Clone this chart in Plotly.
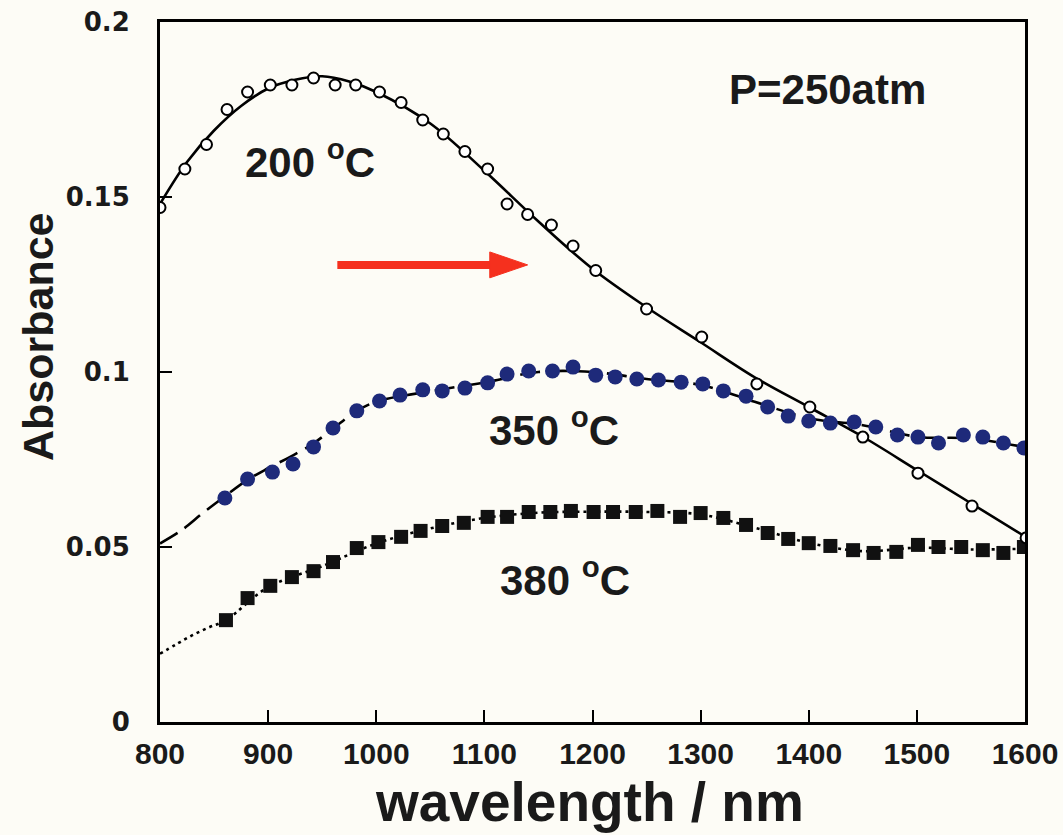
import plotly.graph_objects as go

# ---- 200 °C : open circles + solid fitted curve ----
wl_200 = [800, 823, 843, 862, 881, 902, 922, 942, 962, 981, 1003, 1023, 1043, 1062,
          1082, 1103, 1121, 1140, 1162, 1182, 1203, 1250, 1301, 1352, 1401, 1450,
          1501, 1551, 1601]
abs_200 = [0.147, 0.158, 0.165, 0.175, 0.180, 0.182, 0.182, 0.184, 0.182, 0.182,
           0.180, 0.177, 0.172, 0.168, 0.163, 0.158, 0.148, 0.145, 0.142, 0.136,
           0.129, 0.118, 0.110, 0.0966, 0.090, 0.0814, 0.0711, 0.0617, 0.0526]
fit_wl_200 = [800, 825, 850, 875, 900, 925, 950, 975, 1000, 1050, 1100, 1150, 1200,
              1250, 1300, 1350, 1400, 1450, 1500, 1550, 1600]
fit_abs_200 = [0.148, 0.160, 0.169, 0.176, 0.181, 0.1835, 0.1845, 0.183, 0.180,
               0.171, 0.1575, 0.1430, 0.1295, 0.1185, 0.1085, 0.0985, 0.0900,
               0.0815, 0.0720, 0.0625, 0.053]

# ---- 350 °C : filled navy circles + dashed curve ----
wl_350 = [860, 881, 904, 923, 942, 960, 982, 1003, 1022, 1043, 1061, 1082, 1103,
          1121, 1141, 1163, 1182, 1203, 1221, 1241, 1261, 1282, 1302, 1321, 1342,
          1362, 1381, 1400, 1420, 1442, 1462, 1482, 1501, 1520, 1543, 1561, 1580,
          1599]
abs_350 = [0.064, 0.0694, 0.0714, 0.0737, 0.0786, 0.084, 0.0889, 0.0917, 0.0934,
           0.0949, 0.0946, 0.0954, 0.0969, 0.0994, 0.1003, 0.1003, 0.1014, 0.0991,
           0.0986, 0.098, 0.0977, 0.0971, 0.0966, 0.0946, 0.0931, 0.090, 0.0874,
           0.086, 0.0854, 0.0857, 0.0843, 0.082, 0.0814, 0.0797, 0.082, 0.0814,
           0.0797, 0.0783]
fit_wl_350 = [800, 820, 840, 860, 880, 900, 920, 940, 960, 980, 1000, 1050, 1100,
              1150, 1200, 1250, 1300, 1350, 1400, 1450, 1500, 1550, 1600]
fit_abs_350 = [0.051, 0.0548, 0.0598, 0.0645, 0.069, 0.0725, 0.0757, 0.0792, 0.0838,
               0.0885, 0.0915, 0.0945, 0.0970, 0.1000, 0.1000, 0.0980, 0.0963,
               0.0915, 0.0868, 0.0848, 0.0815, 0.0810, 0.0785]

# ---- 380 °C : filled black squares + dotted curve ----
wl_380 = [861, 881, 902, 922, 942, 960, 982, 1002, 1023, 1041, 1061, 1081, 1103,
          1121, 1141, 1161, 1180, 1201, 1219, 1240, 1260, 1281, 1300, 1321, 1342,
          1362, 1381, 1400, 1420, 1441, 1460, 1481, 1501, 1520, 1541, 1561, 1580,
          1599]
abs_380 = [0.0291, 0.0354, 0.0389, 0.0414, 0.0431, 0.0457, 0.0497, 0.0514, 0.0529,
           0.0546, 0.056, 0.0569, 0.0586, 0.0586, 0.060, 0.060, 0.0603, 0.060,
           0.060, 0.060, 0.0603, 0.0586, 0.0597, 0.0583, 0.0563, 0.054, 0.0523,
           0.0511, 0.0503, 0.0491, 0.0483, 0.0486, 0.0506, 0.050, 0.050, 0.0491,
           0.0483, 0.050]
fit_wl_380 = [800, 815, 830, 845, 861, 900, 950, 1000, 1050, 1100, 1150, 1200, 1250,
              1300, 1350, 1400, 1450, 1500, 1550, 1600]
fit_abs_380 = [0.0195, 0.0222, 0.0248, 0.0270, 0.0291, 0.0385, 0.0445, 0.051, 0.0553,
               0.0583, 0.0598, 0.0601, 0.060, 0.0593, 0.0555, 0.0512, 0.0488,
               0.0498, 0.0493, 0.0495]

x_ticks = [800, 900, 1000, 1100, 1200, 1300, 1400, 1500, 1600]
y_ticks = [0, 0.05, 0.1, 0.15, 0.2]
y_tick_text = ["0", "0.05", "0.1", "0.15", "0.2"]

BG = "#fdfcf6"
NAVY = "#1e2a7a"
INK = "#1a1a1a"
FONT = "Liberation Sans, Arial, sans-serif"
WIDE_FONT = "DejaVu Sans, Verdana, sans-serif"

fig = go.Figure()

# fitted curves underneath the markers
fig.add_trace(go.Scatter(x=fit_wl_200, y=fit_abs_200, mode="lines",
                         line=dict(color="black", width=2.6, shape="spline"),
                         hoverinfo="skip"))
fig.add_trace(go.Scatter(x=fit_wl_350, y=fit_abs_350, mode="lines",
                         line=dict(color="black", width=2.6, shape="spline",
                                   dash="20px,9px"),
                         hoverinfo="skip"))
fig.add_trace(go.Scatter(x=fit_wl_380, y=fit_abs_380, mode="lines",
                         line=dict(color="black", width=2.6, shape="spline",
                                   dash="3px,4px"),
                         hoverinfo="skip"))

# measured points
fig.add_trace(go.Scatter(x=wl_380, y=abs_380, mode="markers",
                         marker=dict(symbol="square", size=14, color="#111111",
                                     line=dict(width=0))))
fig.add_trace(go.Scatter(x=wl_350, y=abs_350, mode="markers",
                         marker=dict(symbol="circle", size=15, color=NAVY,
                                     line=dict(width=0))))
fig.add_trace(go.Scatter(x=wl_200, y=abs_200, mode="markers",
                         marker=dict(symbol="circle", size=11, color="white",
                                     line=dict(color="black", width=2))))

fig.update_xaxes(range=[800, 1600], tickvals=x_ticks, ticks="inside", ticklen=12,
                 tickwidth=2, tickcolor="black", showline=True, linecolor="black",
                 linewidth=3, mirror=True, showgrid=False, zeroline=False,
                 automargin=False,
                 tickfont=dict(family=FONT, size=30, color=INK, weight="bold"),
                 ticklabelstandoff=3)
fig.update_yaxes(range=[0, 0.2], tickvals=y_ticks, ticktext=y_tick_text,
                 ticks="inside", ticklen=12, tickwidth=2, tickcolor="black",
                 showline=True, linecolor="black", linewidth=3, mirror=True,
                 showgrid=False, zeroline=False, automargin=False,
                 tickfont=dict(family=WIDE_FONT, size=26, color=INK, weight="bold"),
                 ticklabelstandoff=22)

# axis titles
fig.add_annotation(xref="paper", yref="paper", x=0.5, y=0, yanchor="middle",
                   yshift=-80, xshift=-3, text="wavelength / nm", showarrow=False,
                   font=dict(family=FONT, size=55, color=INK, weight="bold"))
fig.add_annotation(xref="paper", yref="paper", x=0, y=0.5, xanchor="center",
                   xshift=-122, yshift=35, text="Absorbance", textangle=-90,
                   showarrow=False,
                   font=dict(family=FONT, size=43, color=INK, weight="bold"))

# curve labels
label_font = dict(family=FONT, size=42, color=INK, weight="bold")
fig.add_annotation(x=939, y=0.161, text="200 <sup>o</sup>C", showarrow=False,
                   font=label_font)
fig.add_annotation(x=1164, y=0.0842, text="350 <sup>o</sup>C", showarrow=False,
                   font=label_font)
fig.add_annotation(x=1175, y=0.0413, text="380 <sup>o</sup>C", showarrow=False,
                   font=label_font)
fig.add_annotation(x=1417, y=0.1806, text="P=250atm", showarrow=False,
                   font=label_font)

# red arrow
ARROW_RED = "#f5301e"
fig.add_shape(type="line", x0=964, y0=0.1306, x1=1110, y1=0.1306,
              line=dict(color=ARROW_RED, width=8))
fig.add_shape(type="path",
              path="M 1105,0.1343 L 1140,0.1306 L 1105,0.1269 Z",
              fillcolor=ARROW_RED, line=dict(color=ARROW_RED, width=1))

fig.update_layout(width=1063, height=835, showlegend=False,
                  paper_bgcolor=BG, plot_bgcolor=BG,
                  margin=dict(l=160, r=38, t=22, b=113, autoexpand=False),
                  font=dict(family=FONT))

fig.write_html("out.html")
